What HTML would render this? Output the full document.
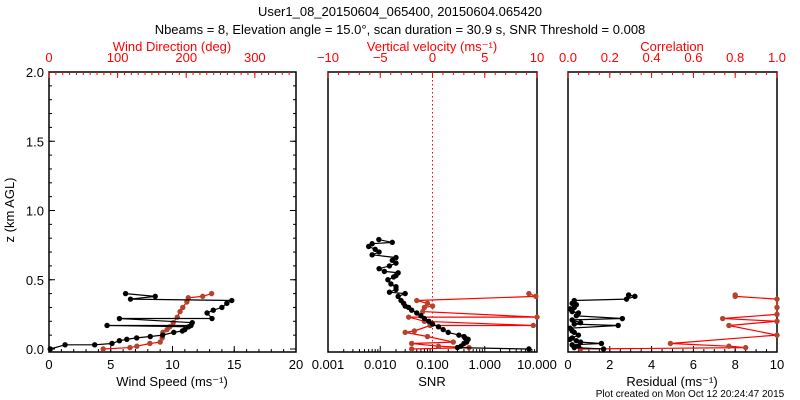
<!DOCTYPE html>
<html><head><meta charset="utf-8"><style>
body{margin:0;background:#fff}
svg{display:block;font-family:"Liberation Sans",sans-serif}
</style></head><body>
<svg id="c" width="800" height="400" viewBox="0 0 800 400">
<rect width="800" height="400" fill="#fff"/>
<text x="400" y="16" font-size="13" text-anchor="middle">User1_08_20150604_065400, 20150604.065420</text>
<text x="400" y="34" font-size="13" text-anchor="middle">Nbeams = 8, Elevation angle = 15.0°, scan duration = 30.9 s, SNR Threshold = 0.008</text>
<text transform="translate(14,210) rotate(-90)" font-size="13" text-anchor="middle">z (km AGL)</text>
<text x="690" y="397" font-size="10" text-anchor="middle">Plot created on Mon Oct 12 20:24:47 2015</text>
</svg>
<script>
// ---- data ----
const speedZ=[0,0.03,0.03,0.04,0.06,0.07,0.08,0.09,0.10,0.12,0.13,0.14,0.16,0.17,0.17,0.19,0.22,0.22,0.26,0.28,0.30,0.33,0.35,0.36,0.38,0.40];
const speedV=[0.1,1.3,3.7,5.1,5.7,6.3,7.1,8.2,9.2,10.1,10.8,11.0,11.3,4.7,11.5,11.6,5.7,13.2,12.8,13.3,14.0,14.4,14.8,6.6,8.6,6.2];
const dirZ=[0,0.01,0.02,0.04,0.05,0.08,0.12,0.14,0.16,0.19,0.23,0.27,0.30,0.34,0.37,0.38,0.40];
const dirV=[79,118,128,147,162,165,166,172,176,181,187,191,195,201,203,224,237];
const snrZ=[0,0.01,0.02,0.04,0.05,0.07,0.08,0.09,0.10,0.12,0.14,0.16,0.18,0.20,0.22,0.24,0.26,0.28,0.30,0.31,0.33,0.35,0.38,0.40,0.41,0.43,0.45,0.47,0.50,0.52,0.53,0.55,0.56,0.58,0.60,0.62,0.64,0.66,0.68,0.70,0.72,0.74,0.76,0.77,0.79];
const snrV=[7,0.3,0.35,0.4,0.45,0.48,0.42,0.4,0.32,0.2,0.16,0.13,0.1,0.085,0.07,0.06,0.05,0.04,0.035,0.03,0.028,0.025,0.022,0.03,0.015,0.02,0.02,0.016,0.014,0.018,0.02,0.022,0.012,0.0095,0.015,0.02,0.017,0.02,0.007,0.0095,0.008,0.006,0.007,0.017,0.0094];
const snrRZ=[0,0.01,0.02,0.04,0.05,0.09,0.12,0.13,0.17,0.17,0.20,0.23,0.23,0.27,0.30,0.31,0.33,0.35,0.38,0.40];
const snrRV=[0.04,0.5,0.13,0.04,0.25,0.08,0.03,0.045,0.09,8.5,0.07,0.035,10,0.065,0.07,0.1,0.08,0.05,9.5,7];
const resZ=[0,0.01,0.02,0.03,0.04,0.05,0.06,0.07,0.08,0.1,0.12,0.13,0.15,0.17,0.18,0.19,0.21,0.22,0.24,0.26,0.27,0.29,0.30,0.32,0.33,0.35,0.36,0.38,0.39];
const resV=[1.7,0.3,0.5,0.2,1.6,0.6,0.4,0.1,0.2,0.5,0.3,0.2,0.1,2.4,0.3,0.6,0.2,2.6,0.4,0.5,0.2,0.1,0.3,0.4,0.2,0.3,2.8,3.2,2.9];
const corZ=[0,0.01,0.02,0.04,0.10,0.17,0.20,0.22,0.25,0.30,0.36,0.38,0.39];
const corV=[0.06,0.85,0.77,0.49,1,0.77,1,0.74,1,1,1,0.8,0.8];
// ---- scales ----
const yTop=72,yBot=352;
const Y=z=>349-z*138.5;
const P1={x0:49,x1:296},P2={x0:328,x1:537},P3={x0:568,x1:777};
const lin=(p,a,b)=>v=>p.x0+(v-a)/(b-a)*(p.x1-p.x0);
const logx=(p,a,b)=>v=>p.x0+(Math.log10(v)-a)/(b-a)*(p.x1-p.x0);
const Xs=lin(P1,0,20),Xd=lin(P1,0,360),Xsnr=logx(P2,-3,1),Xvel=lin(P2,-10,10),Xres=lin(P3,0,10),Xcor=lin(P3,0,1);
const svg=document.getElementById('c');const NS='http://www.w3.org/2000/svg';
function mk(t,a,txt){const e=document.createElementNS(NS,t);for(const k in a)e.setAttribute(k,a[k]);if(txt!=null)e.textContent=txt;svg.appendChild(e);return e;}
function box(p,name){const r=mk('rect',{x:p.x0,y:yTop,width:p.x1-p.x0,height:yBot-yTop,fill:'none',stroke:'#000','stroke-width':1.5});

}
function xticks(sc,vals,minor,y,dir,col,labels,name){
 vals.forEach((v,i)=>{const x=sc(v);mk('line',{x1:x,x2:x,y1:y,y2:y+dir*6,stroke:col});
  const t=mk('text',{x:x,y:dir<0?y+17:y-10,'font-size':13,'text-anchor':'middle',fill:col},labels[i]);
  
  });
 minor.forEach(v=>{const x=sc(v);mk('line',{x1:x,x2:x,y1:y,y2:y+dir*3,stroke:col});});}
function rng(a,b,s){const r=[];for(let v=a;v<=b+1e-9;v+=s)r.push(+v.toFixed(4));return r;}
function series(xs,zs,sc,lc,pc,name){
 let d='';zs.forEach((z,i)=>{d+=(i?'L':'M')+sc(xs[i]).toFixed(1)+','+Y(z).toFixed(1);});
 const l=mk('path',{d:d,fill:'none',stroke:lc,'stroke-width':1.2});
 
 
 zs.forEach((z,i)=>{const c=mk('circle',{cx:sc(xs[i]),cy:Y(z),r:2.7,fill:pc});
  
  });}
// panel 1
box(P1,'wind-panel-frame');
xticks(Xs,[0,5,10,15,20],rng(0,20,1),yBot,-1,'#000',['0','5','10','15','20'],'wind-speed-tick-label');
xticks(Xd,[0,100,200,300],rng(0,350,10),yTop,1,'#f00',['0','100','200','300'],'wind-direction-tick-label');
[0,0.5,1,1.5,2].forEach((z,i)=>{const y=Y(z);mk('line',{x1:P1.x0,x2:P1.x0+6,y1:y,y2:y,stroke:'#000'});mk('line',{x1:P1.x1,x2:P1.x1-6,y1:y,y2:y,stroke:'#000'});
 const t=mk('text',{x:44,y:y+5,'font-size':13,'text-anchor':'end'},z.toFixed(1));
 
 });
rng(0,2,0.1).forEach(z=>{const y=Y(z);mk('line',{x1:P1.x0,x2:P1.x0+3,y1:y,y2:y,stroke:'#000'});mk('line',{x1:P1.x1,x2:P1.x1-3,y1:y,y2:y,stroke:'#000'});});
mk('text',{x:172,y:386,'font-size':13,'text-anchor':'middle'},'Wind Speed (ms⁻¹)');
mk('text',{x:172,y:51,'font-size':13,'text-anchor':'middle',fill:'#f00'},'Wind Direction (deg)');
series(dirV,dirZ,Xd,'#f00','#b4432a','wind-direction');
series(speedV,speedZ,Xs,'#000','#000','wind-speed');
// panel 2
box(P2,'snr-panel-frame');
xticks(Xsnr,[0.001,0.01,0.1,1,10],[2,3,4,5,6,7,8,9].flatMap(m=>[m*0.001,m*0.01,m*0.1,m]),yBot,-1,'#000',['0.001','0.010','0.100','1.000','10.000'],'snr-tick-label');
xticks(Xvel,[-10,-5,0,5,10],rng(-10,10,1),yTop,1,'#f00',['−10','−5','0','5','10'],'vertical-velocity-tick-label');
mk('line',{x1:Xvel(0),x2:Xvel(0),y1:yTop,y2:yBot,stroke:'#f00','stroke-dasharray':'1.5,2.5'});
mk('text',{x:432,y:386,'font-size':13,'text-anchor':'middle'},'SNR');
mk('text',{x:432,y:51,'font-size':13,'text-anchor':'middle',fill:'#f00'},'Vertical velocity (ms⁻¹)');
series(snrRV,snrRZ,Xsnr,'#f00','#b4432a','snr-red');
series(snrV,snrZ,Xsnr,'#000','#000','snr');
// panel 3
box(P3,'residual-panel-frame');
xticks(Xres,[0,2,4,6,8,10],rng(0,10,0.5),yBot,-1,'#000',['0','2','4','6','8','10'],'residual-tick-label');
xticks(Xcor,[0,0.2,0.4,0.6,0.8,1],rng(0,1,0.05),yTop,1,'#f00',['0.0','0.2','0.4','0.6','0.8','1.0'],'correlation-tick-label');
mk('text',{x:672,y:386,'font-size':13,'text-anchor':'middle'},'Residual (ms⁻¹)');
mk('text',{x:672,y:51,'font-size':13,'text-anchor':'middle',fill:'#f00'},'Correlation');
series(corV,corZ,Xcor,'#f00','#b4432a','correlation');
series(resV,resZ,Xres,'#000','#000','residual');
</script>
</body></html>
